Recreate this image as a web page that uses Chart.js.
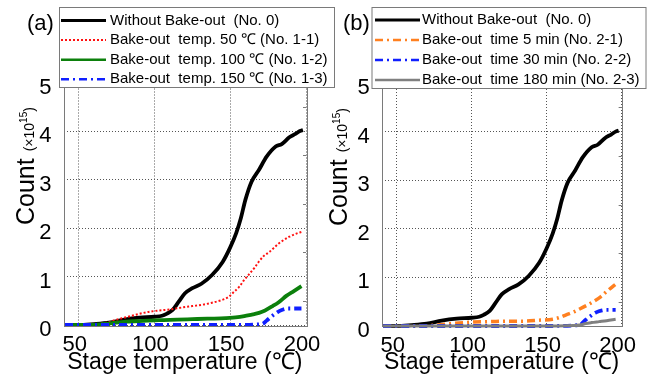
<!DOCTYPE html>
<html>
<head>
<meta charset="utf-8">
<script src="https://cdn.jsdelivr.net/npm/chart.js@4.4.0/dist/chart.umd.min.js"></script>
<style>
  html, body { margin: 0; padding: 0; background: #fff; }
  #wrap { position: relative; width: 647px; height: 377px; overflow: hidden; }
  canvas { position: absolute; top: 0; }
  #chartA { left: 0; }
  #chartB { left: 320px; }
</style>
</head>
<body>
<div id="wrap">
  <canvas id="chartA" width="340" height="377"></canvas>
  <canvas id="chartB" width="327" height="377"></canvas>
</div>
<script>
// tick labels
const xTickVals = [50, 100, 150, 200];
const yTickVals = [0, 1, 2, 3, 4, 5];

// Without Bake-out (No. 0) - same curve in both panels
const noBakeT = [41, 50, 60, 70, 80, 90, 100, 105, 108, 112, 116, 120, 125, 131, 138, 145, 150, 154, 157, 160, 164, 169, 174, 180, 184, 189, 193, 196, 198];
const noBakeC = [0, 0, 0.02, 0.05, 0.11, 0.15, 0.17, 0.19, 0.23, 0.31, 0.48, 0.65, 0.76, 0.85, 1.03, 1.3, 1.6, 1.9, 2.2, 2.58, 2.95, 3.2, 3.47, 3.68, 3.73, 3.87, 3.94, 4.0, 4.02];

// panel (a): bake-out temperature
const temp50T = [41, 55, 63, 70, 74, 80, 85, 90, 96, 103, 110, 118, 125, 132, 138, 144, 149, 152, 156, 159, 162, 166, 169, 172, 176, 182, 189, 195, 197];
const temp50C = [0, 0, 0.02, 0.06, 0.1, 0.15, 0.19, 0.23, 0.27, 0.3, 0.32, 0.36, 0.39, 0.42, 0.46, 0.51, 0.58, 0.67, 0.79, 0.92, 1.03, 1.18, 1.31, 1.42, 1.51, 1.68, 1.82, 1.9, 1.92];
const temp100T = [41, 58, 70, 81, 90, 103, 115, 125, 135, 147, 155, 160, 165, 169, 173, 178, 182, 187, 192, 197];
const temp100C = [0, 0, 0.03, 0.07, 0.08, 0.1, 0.11, 0.12, 0.13, 0.14, 0.16, 0.19, 0.22, 0.25, 0.3, 0.39, 0.47, 0.6, 0.7, 0.8];
const temp150T = [41, 100, 150, 171, 174, 177, 181, 184, 188, 192, 197];
const temp150C = [0, 0, 0, 0.02, 0.09, 0.17, 0.26, 0.31, 0.34, 0.34, 0.34];

// panel (b): bake-out time
const time5T = [41, 65, 77, 87, 100, 112, 125, 134, 145, 154, 158, 163, 168, 172, 177, 181, 186, 190, 196];
const time5C = [0, 0, 0.02, 0.05, 0.08, 0.09, 0.1, 0.1, 0.12, 0.14, 0.17, 0.23, 0.29, 0.35, 0.43, 0.5, 0.6, 0.71, 0.86];
const time30T = [41, 100, 150, 172, 175, 179, 183, 187, 190, 196];
const time30C = [0, 0, 0, 0.02, 0.1, 0.2, 0.28, 0.32, 0.33, 0.33];
const time180T = [41, 100, 150, 172, 176, 180, 185, 190, 196];
const time180C = [0, 0, 0, 0.02, 0.05, 0.07, 0.09, 0.11, 0.14];

const FONT = "'Liberation Sans', Arial, sans-serif";
Chart.defaults.font.family = FONT;
Chart.defaults.color = '#000';

const DASHDOT = [8, 4, 2, 4];

function pts(xs, ys) {
  return xs.map((x, i) => ({ x: x, y: ys[i] }));
}

function series(label, xs, ys, color, width, dash, order, legendWidth) {
  return {
    label: label,
    data: pts(xs, ys),
    borderColor: color,
    borderWidth: width,
    borderDash: dash,
    borderCapStyle: 'butt',
    order: order,
    legendWidth: legendWidth,
    pointRadius: 0,
    fill: false,
    cubicInterpolationMode: 'monotone',
    clip: 5
  };
}

// frame, titles, legend box and panel letter
const panelPlugin = {
  id: 'panel',
  afterDraw(chart, args, o) {
    const ctx = chart.ctx;
    const a = chart.chartArea;
    const ys = chart.scales.y;
    ctx.save();

    ctx.strokeStyle = '#7a7a7a';
    ctx.lineWidth = 1;
    ctx.setLineDash([]);
    ctx.strokeRect(Math.round(a.left) + 0.5, Math.round(a.top) + 0.5,
      Math.round(a.right - a.left), Math.round(a.bottom - a.top));
    ctx.beginPath();
    for (let v = 0.5; v < 5; v += 1) {
      const y = Math.round(ys.getPixelForValue(v)) + 0.5;
      ctx.moveTo(a.right - 3, y);
      ctx.lineTo(a.right, y);
    }
    ctx.stroke();

    // y title
    ctx.save();
    ctx.translate(o.yTitleX, o.yTitleY);
    ctx.rotate(-Math.PI / 2);
    ctx.textAlign = 'left';
    ctx.textBaseline = 'alphabetic';
    ctx.fillStyle = '#000';
    ctx.font = '25px ' + FONT;
    ctx.fillText('Count', 0, 0);
    let w = ctx.measureText('Count ').width;
    ctx.font = '14px ' + FONT;
    ctx.fillText('(\u00d710', w, 0);
    w += ctx.measureText('(\u00d710').width;
    ctx.font = '10px ' + FONT;
    ctx.fillText('15', w, -7);
    w += ctx.measureText('15').width;
    ctx.font = '14px ' + FONT;
    ctx.fillText(')', w, 0);
    ctx.restore();

    // x title
    ctx.font = '23px ' + FONT;
    ctx.textAlign = 'center';
    ctx.textBaseline = 'middle';
    ctx.fillStyle = '#000';
    ctx.fillText('Stage temperature (\u2103)', (a.left + a.right) / 2, 363);

    // panel letter
    ctx.font = '22px ' + FONT;
    ctx.textAlign = 'left';
    ctx.fillText(o.letter, o.letterX, 24);

    // legend
    const b = o.legendBox;
    ctx.fillStyle = '#fff';
    ctx.fillRect(b.x, b.y, b.w, b.h);
    ctx.strokeStyle = '#7a7a7a';
    ctx.lineWidth = 1;
    ctx.strokeRect(b.x + 0.5, b.y + 0.5, b.w, b.h);
    ctx.font = '15px ' + FONT;
    ctx.textBaseline = 'middle';
    chart.data.datasets.forEach((ds, i) => {
      const y = o.rowY + i * o.rowStep;
      ctx.beginPath();
      ctx.strokeStyle = ds.borderColor;
      ctx.lineWidth = ds.legendWidth;
      ctx.setLineDash(ds.borderDash || []);
      ctx.moveTo(o.sampleX0, y);
      ctx.lineTo(o.sampleX1, y);
      ctx.stroke();
      ctx.setLineDash([]);
      ctx.fillStyle = '#000';
      ctx.fillText(ds.label, o.textX, y);
    });

    ctx.restore();
  }
};

function makeChart(id, datasets, lay, panelOpts) {
  return new Chart(document.getElementById(id), {
    type: 'line',
    data: { datasets: datasets },
    plugins: [panelPlugin],
    options: {
      responsive: false,
      animation: false,
      events: [],
      layout: { padding: { left: 0, right: lay.right, top: lay.top, bottom: 0 } },
      plugins: {
        legend: { display: false },
        tooltip: { enabled: false },
        panel: panelOpts
      },
      scales: {
        x: {
          type: 'linear',
          min: 40,
          max: 200,
          afterFit: s => { s.height = lay.xHeight; },
          afterBuildTicks: s => { s.ticks = xTickVals.map(v => ({ value: v })); },
          grid: { color: '#555', lineWidth: 1, drawTicks: false },
          border: { display: false, dash: [1, 2] },
          ticks: { font: { size: 22 }, padding: 7, labelOffset: -4, maxRotation: 0, autoSkip: false }
        },
        y: {
          type: 'linear',
          min: 0,
          max: 5,
          afterFit: s => { s.width = lay.yWidth; },
          afterBuildTicks: s => { s.ticks = yTickVals.map(v => ({ value: v })); },
          grid: { color: '#555', lineWidth: 1, drawTicks: false },
          border: { display: false, dash: [1, 2] },
          ticks: { font: { size: 22 }, padding: 12, labelOffset: 5 }
        }
      }
    }
  });
}

makeChart('chartA', [
  series('Without Bake-out  (No. 0)', noBakeT, noBakeC, '#000000', 3.8, [], 3, 3),
  series('Bake-out  temp. 50 \u2103 (No. 1-1)', temp50T, temp50C, '#ff1010', 2, [2, 2], 2, 2),
  series('Bake-out  temp. 100 \u2103 (No. 1-2)', temp100T, temp100C, '#0c800c', 3.8, [], 1, 2.5),
  series('Bake-out  temp. 150 \u2103 (No. 1-3)', temp150T, temp150C, '#1020ff', 3.8, DASHDOT, 0, 2.5)
], { right: 34, top: 82.5, xHeight: 52, yWidth: 63.5 }, {
  letter: '(a)', letterX: 27, yTitleX: 34, yTitleY: 225,
  legendBox: { x: 59, y: 7, w: 275, h: 80 },
  rowY: 20.5, rowStep: 19.6, sampleX0: 61, sampleX1: 106, textX: 110
});

makeChart('chartB', [
  series('Without Bake-out  (No. 0)', noBakeT, noBakeC, '#000000', 3.8, [], 3, 3),
  series('Bake-out  time 5 min (No. 2-1)', time5T, time5C, '#ff8020', 3.5, DASHDOT, 2, 2.5),
  series('Bake-out  time 30 min (No. 2-2)', time30T, time30C, '#1020ff', 3.8, DASHDOT, 1, 2.5),
  series('Bake-out  time 180 min (No. 2-3)', time180T, time180C, '#808080', 3, [], 0, 2.5)
], { right: 24.3, top: 83, xHeight: 51, yWidth: 61.7 }, {
  letter: '(b)', letterX: 23, yTitleX: 26.5, yTitleY: 226,
  legendBox: { x: 51.5, y: 7, w: 274, h: 81 },
  rowY: 20, rowStep: 20, sampleX0: 55, sampleX1: 100, textX: 102
});
</script>
</body>
</html>
